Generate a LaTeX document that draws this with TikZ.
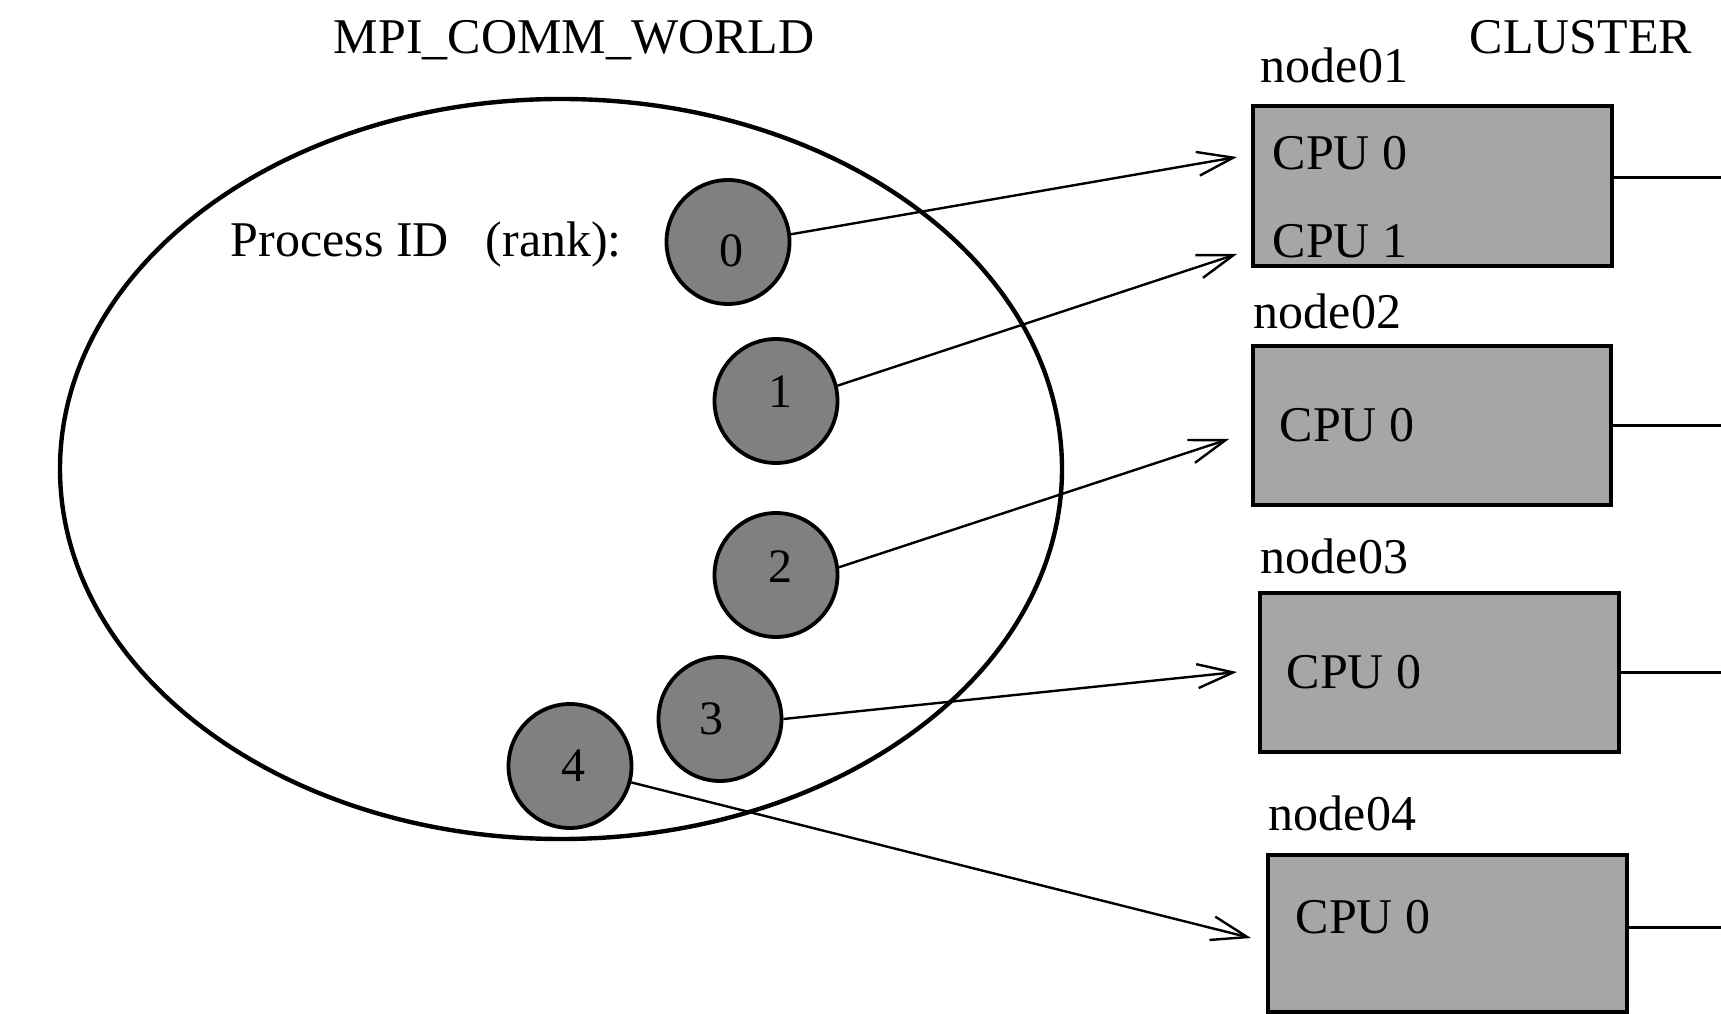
\documentclass[tikz,border=0pt]{standalone}
\usepackage{fontspec}
\setmainfont{Liberation Serif}
\usetikzlibrary{shapes.geometric,arrows.meta,fit}
\definecolor{procgray}{HTML}{808080}
\definecolor{boxgray}{HTML}{A6A6A6}
\begin{document}
\begin{tikzpicture}[x=0.25pt,y=-0.25pt,
  txt/.style={font=\fontsize{12.5}{15}\selectfont, inner sep=0pt, anchor=base west},
  digit/.style={font=\fontsize{12}{14}\selectfont, inner sep=0pt, anchor=center},
  proc/.style={ellipse, draw, fill=procgray, line width=0.95pt, minimum width=30.75pt, minimum height=31pt, inner sep=0pt},
  cpubox/.style={rectangle, draw, fill=boxgray, line width=1pt, inner sep=0pt},
  link/.style={line width=0.6pt, -{Straight Barb[length=9pt,width=6pt,line width=0.6pt]}},
  wire/.style={line width=0.75pt}]
\useasboundingbox (0,0) rectangle (1721,1014);
\clip (0,0) rectangle (1721,1014);

% communicator
\node[ellipse, draw, line width=1.1pt, minimum width=250.5pt, minimum height=185pt, inner sep=0pt] (world) at (561,469) {};
\node[txt] (mpi) at (333,54) {MPI\_COMM\_WORLD};
\node[txt] (pid) at (230,257) {Process ID\hspace{9.25pt}(rank):};

% processes
\node[proc] (c0) at (728,242) {};
\node[proc] (c1) at (776,401) {};
\node[proc] (c2) at (776,575) {};
\node[proc] (c3) at (720,719) {};
\node[proc] (c4) at (570,766) {};
\node[digit] (d0) at (731,251) {0};
\node[digit] (d1) at (780,392) {1};
\node[digit] (d2) at (780,567) {2};
\node[digit] (d3) at (711,719) {3};
\node[digit] (d4) at (573,766) {4};

% cluster
\node[txt] (cluster) at (1469,54) {CLUSTER};

\node[txt] (n1) at (1260,83) {node01};
\node[cpubox, fit={(1253,106) (1612,266)}] (b1) {};
\node[txt] (cpu10) at (1272,170) {CPU 0};
\node[txt] (cpu11) at (1272,258) {CPU 1};

\node[txt] (n2) at (1253,329) {node02};
\node[cpubox, fit={(1253,346) (1611,505)}] (b2) {};
\node[txt] (cpu20) at (1279,442) {CPU 0};

\node[txt] (n3) at (1260,574) {node03};
\node[cpubox, fit={(1260,593) (1619,752)}] (b3) {};
\node[txt] (cpu30) at (1286,688) {CPU 0};

\node[txt] (n4) at (1268,830) {node04};
\node[cpubox, fit={(1268,855) (1627,1012)}] (b4) {};
\node[txt] (cpu40) at (1295,933) {CPU 0};

% network wires
\coordinate (w1) at (1721,178);
\coordinate (w2) at (1721,426);
\coordinate (w3) at (1721,672);
\coordinate (w4) at (1721,927);
\draw[wire] (b1.east |- w1) -- (w1);
\draw[wire] (b2.east |- w2) -- (w2);
\draw[wire] (b3.east |- w3) -- (w3);
\draw[wire] (b4.east |- w4) -- (w4);

% mapping arrows
\coordinate (t0) at (1237,157);
\coordinate (t1) at (1237,254);
\coordinate (t2) at (1229,439);
\coordinate (t3) at (1237,672);
\coordinate (t4) at (1251,938);
\draw[link] (c0.7) -- (t0);
\draw[link] (c1.14) -- (t1);
\draw[link] (c2.7) -- (t2);
\draw[link] (c3.0) -- (t3);
\draw[link] (c4.-15) -- (t4);
\end{tikzpicture}
\end{document}
